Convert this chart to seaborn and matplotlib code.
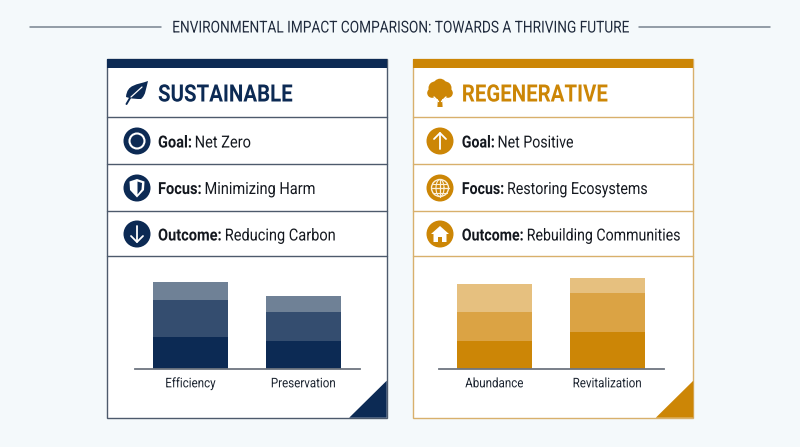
import numpy as np
import pandas as pd
import matplotlib
matplotlib.use('Agg')
import matplotlib.pyplot as plt
from matplotlib.patches import Rectangle, Circle, Polygon, PathPatch
from matplotlib.path import Path
from matplotlib.patheffects import AbstractPathEffect
from matplotlib.transforms import Affine2D
import seaborn as sns

title = 'ENVIRONMENTAL IMPACT COMPARISON: TOWARDS A THRIVING FUTURE'

sus_categories = ['Efficiency', 'Preservation']
sus_base = [32, 28]
sus_mid = [37, 29]
sus_top = [18, 16]

reg_categories = ['Abundance', 'Revitalization']
reg_base = [28, 37]
reg_mid = [29, 39]
reg_top = [28, 15]

sus_rows = [('Goal:', 'Net Zero'), ('Focus:', 'Minimizing Harm'), ('Outcome:', 'Reducing Carbon')]
reg_rows = [('Goal:', 'Net Positive'), ('Focus:', 'Restoring Ecosystems'), ('Outcome:', 'Rebuilding Communities')]

NAVY = ['#0c2a54', '#344d6f', '#6f8196']
GOLD = ['#cc8606', '#dba344', '#e6c07f']
INK = '#14181f'

sns.set_theme(style='white')
plt.rcParams['font.family'] = ['Roboto', 'DejaVu Sans']

BG = '#f4f9fb'
fig = plt.figure(figsize=(8, 4.47), dpi=100, facecolor=BG)
bg = fig.add_axes([0, 0, 1, 1])
bg.set_xlim(0, 800)
bg.set_ylim(447, 0)
bg.axis('off')
renderer = fig.canvas.get_renderer()


class Squeeze(AbstractPathEffect):
    # no condensed font installed, so narrow the glyphs of a normal text
    def __init__(self, sx, centered=False):
        super().__init__()
        self.sx = sx
        self.centered = centered

    def draw_path(self, renderer, gc, tpath, affine, rgbFace=None):
        cx = tpath.get_extents().x0 + tpath.get_extents().width / 2 if self.centered else 0
        narrow = Affine2D().translate(-cx, 0).scale(self.sx, 1).translate(cx, 0)
        renderer.draw_path(gc, tpath, narrow + affine, rgbFace)


def draw_stack(x0, x1, cats, base, mid, top, colors):
    ax = fig.add_axes([x0 / 800, 1 - 369 / 447, (x1 - x0) / 800, 99 / 447])
    ax.patch.set_alpha(0)
    df = pd.DataFrame({'cat': cats, 'base': base, 'mid': mid, 'top': top})
    kw = dict(saturation=1, width=0.664, linewidth=0, ax=ax)
    sns.barplot(df, x='cat', y='base', color=colors[0], **kw)
    sns.barplot(df, x='cat', y='mid', bottom=df['base'], color=colors[1], **kw)
    sns.barplot(df, x='cat', y='top', bottom=df['base'] + df['mid'], color=colors[2], **kw)
    ax.set_xlim(-0.491, 1.496)
    ax.set_ylim(0, 99)
    ax.set_xlabel('')
    ax.set_ylabel('')
    ax.set_yticks([])
    ax.tick_params(axis='x', length=0, pad=6, labelsize=9.6, labelcolor='#1c2430')
    for label in ax.get_xticklabels():
        label.set_path_effects([Squeeze(0.868, centered=True)])
    sns.despine(ax=ax, left=True)
    ax.spines['bottom'].set_color('#6e7580')
    ax.spines['bottom'].set_linewidth(1.3)


def draw_card(x0, x1, color, line_color, heading, rows, sx):
    top, bottom = 59.3, 417.7
    bg.add_patch(Rectangle((x0, top), x1 - x0, bottom - top, fc='white', ec=line_color, lw=1.0, zorder=1))
    bg.add_patch(Rectangle((x0, top), x1 - x0, 8.7, fc=color, ec='none', zorder=2))
    for y in [117.3, 164, 210.7, 255.7]:
        bg.plot([x0, x1], [y, y], color=line_color, lw=1.0, zorder=2)
    bg.add_patch(Polygon([(x1 - 37.5, bottom), (x1, bottom - 37), (x1, bottom)], fc=color, ec='none', zorder=3))
    tx = x0 + 51.5 if x0 < 400 else x0 + 48.5
    bg.text(tx, 101.5, heading, color=color, fontsize=17.2, fontweight='bold', va='baseline', zorder=4,
            path_effects=[Squeeze(0.855)])
    for (bold, rest), y in zip(rows, [147.5, 194, 240.5]):
        t = bg.text(tx, y, bold, color=INK, fontsize=12, fontweight='bold', va='baseline', zorder=4,
                    path_effects=[Squeeze(sx)])
        box = t.get_window_extent(renderer)
        bg.text(tx + box.width * sx + 3, y, rest, color=INK, fontsize=12, va='baseline', zorder=4,
                path_effects=[Squeeze(sx)])


def disc(cx, cy, color):
    bg.add_patch(Circle((cx, cy), 13.5, fc=color, ec='none', zorder=4))


def arrow(cx, cy, direction):
    # direction -1 points up on screen, +1 down
    bg.plot([cx, cx], [cy - 8 * direction, cy + 8 * direction], color='white', lw=1.3, zorder=5)
    bg.plot([cx - 6, cx, cx + 6], [cy + 2 * direction, cy + 8 * direction, cy + 2 * direction], color='white', lw=1.3, zorder=5)


def leaf():
    verts = [(148, 81), (137, 85), (127, 84), (126, 97), (132, 99), (137, 99), (141, 99),
             (146, 95), (146, 88), (148, 81)]
    codes = [Path.MOVETO] + [Path.CURVE4] * 9
    bg.add_patch(PathPatch(Path(verts, codes), fc=NAVY[0], ec='none', zorder=4))
    bg.plot([126.5, 130, 142], [104, 98, 87], color=NAVY[0], lw=1.4, zorder=5)
    bg.plot([131, 142], [97, 87], color='white', lw=0.9, zorder=6)


def tree():
    cx = 440
    for dx, dy, r in [(0, 85.5, 6.8), (-5, 88, 6.5), (5, 88, 6.5), (-8, 93, 4.8), (8, 93, 4.8), (-3, 94, 5), (3, 94, 5)]:
        bg.add_patch(Circle((cx + dx, dy), r, fc=GOLD[0], ec='none', zorder=4))
    bg.add_patch(Polygon([(cx - 2, 97), (cx + 2, 97), (cx + 2.6, 107), (cx - 2.6, 107)], fc=GOLD[0], ec='none', zorder=4))
    bg.plot([cx - 6, cx - 1.5], [97, 101.5], color='white', lw=1, zorder=5)
    bg.plot([cx + 6, cx + 1.5], [97, 101.5], color='white', lw=1, zorder=5)


def target(cx, cy):
    bg.add_patch(Circle((cx, cy), 7.5, fc='none', ec='white', lw=1.5, zorder=5))


def shield(cx, cy):
    pts = [(cx - 7.5, cy - 6.5), (cx, cy - 9), (cx + 7.5, cy - 6.5), (cx + 7, cy + 2), (cx, cy + 9.5), (cx - 7, cy + 2)]
    bg.add_patch(Polygon(pts, fc='white', ec='none', zorder=5))
    inner = [(cx + 0.5, cy - 6.5), (cx + 5, cy - 5), (cx + 4.5, cy + 1.5), (cx + 0.5, cy + 6.5)]
    bg.add_patch(Polygon(inner, fc=NAVY[0], ec='none', zorder=6))


def globe(cx, cy):
    c = '#fbf0dc'
    bg.add_patch(Circle((cx, cy), 8.5, fc='none', ec=c, lw=1, zorder=5))
    bg.plot([cx - 8.5, cx + 8.5], [cy, cy], color=c, lw=0.9, zorder=5)
    bg.plot([cx, cx], [cy - 8.5, cy + 8.5], color=c, lw=0.9, zorder=5)
    for dy in (-4.5, 4.5):
        bg.plot([cx - 7.2, cx + 7.2], [cy + dy, cy + dy], color=c, lw=0.8, zorder=5)
    th = np.linspace(0, 2 * np.pi, 60)
    bg.plot(cx + 4 * np.cos(th), cy + 8.5 * np.sin(th), color=c, lw=0.8, zorder=5)


def house(cx, cy):
    bg.add_patch(Polygon([(cx - 9, cy), (cx, cy - 8), (cx + 9, cy), (cx + 6.5, cy), (cx + 6.5, cy + 8),
                          (cx + 2, cy + 8), (cx + 2, cy + 3), (cx - 2, cy + 3), (cx - 2, cy + 8),
                          (cx - 6.5, cy + 8), (cx - 6.5, cy)], fc='white', ec='none', zorder=5))


# title with rules either side
bg.plot([30, 160.5], [27, 27], color='#77838f', lw=1.1)
bg.plot([639, 770], [27, 27], color='#77838f', lw=1.1)
bg.text(400, 28, title, ha='center', va='center', fontsize=11.8, color='#1f2a3c',
        path_effects=[Squeeze(0.835, centered=True)])

draw_card(106.5, 386.7, NAVY[0], '#4d5a6c', 'SUSTAINABLE', sus_rows, 0.875)
draw_card(413.3, 693.3, GOLD[0], '#d8b06c', 'REGENERATIVE', reg_rows, 0.85)

leaf()
tree()
for y in [141, 188, 234]:
    disc(137, y, NAVY[0])
    disc(440, y, GOLD[0])
target(137, 141)
shield(137, 188)
arrow(137, 234, 1)
arrow(440, 141, -1)
globe(440, 188)
house(440, 234)

draw_stack(135, 359.5, sus_categories, sus_base, sus_mid, sus_top, NAVY)
draw_stack(439, 663.5, reg_categories, reg_base, reg_mid, reg_top, GOLD)

fig.savefig('out.png', dpi=100, facecolor=BG)
